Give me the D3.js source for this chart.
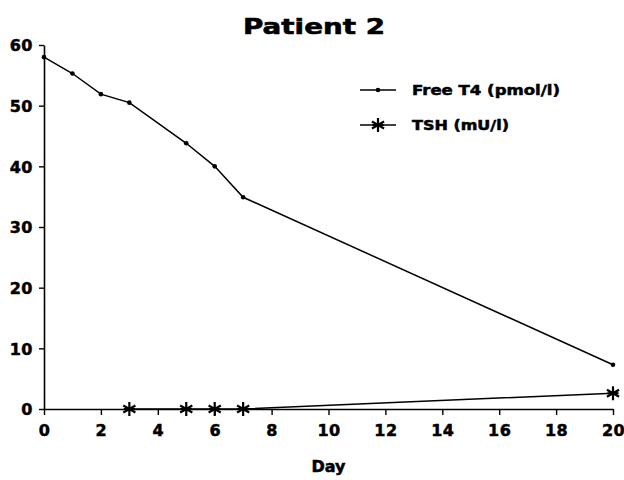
<!DOCTYPE html>
<html>
<head>
<meta charset="utf-8">
<script src="https://cdn.jsdelivr.net/npm/d3@7"></script>
<style>
  body { margin: 0; background: #fff; }
  text { font-family: "DejaVu Sans", sans-serif; font-weight: bold; fill: #000; stroke: #000; stroke-width: 0.5px; }
</style>
</head>
<body>
<div id="chart"></div>
<script>
// data
var t4Days = [0, 1, 2, 3, 5, 6, 7, 20];
var t4Values = [58, 55.3, 51.9, 50.5, 43.8, 40.0, 34.9, 7.3];
var tshDays = [3, 5, 6, 7, 20];
var tshValues = [0, 0, 0, 0, 2.6];
var xTicks = [0, 2, 4, 6, 8, 10, 12, 14, 16, 18, 20];
var yTicks = [0, 10, 20, 30, 40, 50, 60];
var seriesNames = ["Free T4 (pmol/l)", "TSH (mU/l)"];
var legendWidths = [148, 97];

var margin = {top: 45, right: 11, bottom: 71, left: 44},
    width = 624 - margin.left - margin.right,
    height = 480 - margin.top - margin.bottom;

var svg = d3.select("#chart")
  .append("svg")
    .attr("width", 624)
    .attr("height", 480)
  .append("g")
    .attr("transform", "translate(" + margin.left + "," + margin.top + ")");

var x = d3.scaleLinear().domain([0, 20]).range([0, width]);
var y = d3.scaleLinear().domain([0, 60]).range([height, 0]);

// title
svg.append("text")
  .attr("x", 270)
  .attr("y", -11)
  .attr("text-anchor", "middle")
  .attr("textLength", 142)
  .attr("lengthAdjust", "spacingAndGlyphs")
  .style("font-size", "22px")
  .style("stroke-width", "0.6px")
  .text("Patient 2");

// axes
var xAxis = svg.append("g")
  .attr("transform", "translate(0," + height + ")")
  .call(d3.axisBottom(x).tickValues(xTicks).tickSize(6).tickPadding(10).tickSizeOuter(0));
var yAxis = svg.append("g")
  .call(d3.axisLeft(y).tickValues(yTicks).tickSize(5).tickPadding(6).tickSizeOuter(0));

[xAxis, yAxis].forEach(function (a) {
  a.select(".domain").attr("stroke-width", 1.6);
  a.selectAll(".tick line").attr("stroke-width", 1.4);
  a.selectAll(".tick text")
    .style("font-size", "16px")
    .style("font-weight", "bold")
    .style("font-family", "'DejaVu Sans', sans-serif")
    .attr("letter-spacing", 0.5);
});
yAxis.selectAll(".tick text").attr("dy", "0.36em");

// x axis title
svg.append("text")
  .attr("x", x(10))
  .attr("y", height + 63)
  .attr("text-anchor", "middle")
  .attr("textLength", 34)
  .attr("lengthAdjust", "spacingAndGlyphs")
  .style("font-size", "15px")
  .text("Day");

var t4 = t4Days.map(function (d, i) { return {day: d, v: t4Values[i]}; });
var tsh = tshDays.map(function (d, i) { return {day: d, v: tshValues[i]}; });

var line = d3.line()
  .x(function (d) { return x(d.day); })
  .y(function (d) { return y(d.v); });

svg.append("path").datum(t4)
  .attr("fill", "none").attr("stroke", "#000").attr("stroke-width", 1.5)
  .attr("d", line);
svg.append("path").datum(tsh)
  .attr("fill", "none").attr("stroke", "#000").attr("stroke-width", 1.5)
  .attr("d", line);

// asterisk marker path (6 arms)
function asterisk(r) {
  var p = "";
  [90, 30, 150].forEach(function (a) {
    var rad = a * Math.PI / 180, dx = r * Math.cos(rad), dy = r * Math.sin(rad);
    p += "M" + (-dx) + "," + (-dy) + "L" + dx + "," + dy;
  });
  return p + "M" + (-r * 0.8) + ",0L" + (r * 0.8) + ",0";
}

svg.selectAll(".dot").data(t4).enter().append("circle")
  .attr("cx", function (d) { return x(d.day); })
  .attr("cy", function (d) { return y(d.v); })
  .attr("r", 2.3)
  .attr("fill", "#000");

svg.selectAll(".star").data(tsh).enter().append("path")
  .attr("transform", function (d) { return "translate(" + x(d.day) + "," + y(d.v) + ")"; })
  .attr("d", asterisk(7))
  .attr("stroke", "#000").attr("stroke-width", 2.2).attr("fill", "none");

// legend
var legend = svg.append("g").attr("transform", "translate(316,45)");
seriesNames.forEach(function (name, i) {
  var g = legend.append("g").attr("transform", "translate(0," + (i * 35) + ")");
  g.append("line").attr("x1", 0).attr("x2", 36).attr("y1", 0).attr("y2", 0)
    .attr("stroke", "#000").attr("stroke-width", 1.5);
  if (i === 0) {
    g.append("circle").attr("cx", 18).attr("cy", 0).attr("r", 2.3).attr("fill", "#000");
  } else {
    g.append("path").attr("transform", "translate(18,0)").attr("d", asterisk(7))
      .attr("stroke", "#000").attr("stroke-width", 2.2).attr("fill", "none");
  }
  g.append("text").attr("x", 52).attr("y", 5)
    .style("font-size", "13.5px")
    .attr("textLength", legendWidths[i])
    .attr("lengthAdjust", "spacingAndGlyphs")
    .text(name);
});
</script>
</body>
</html>
